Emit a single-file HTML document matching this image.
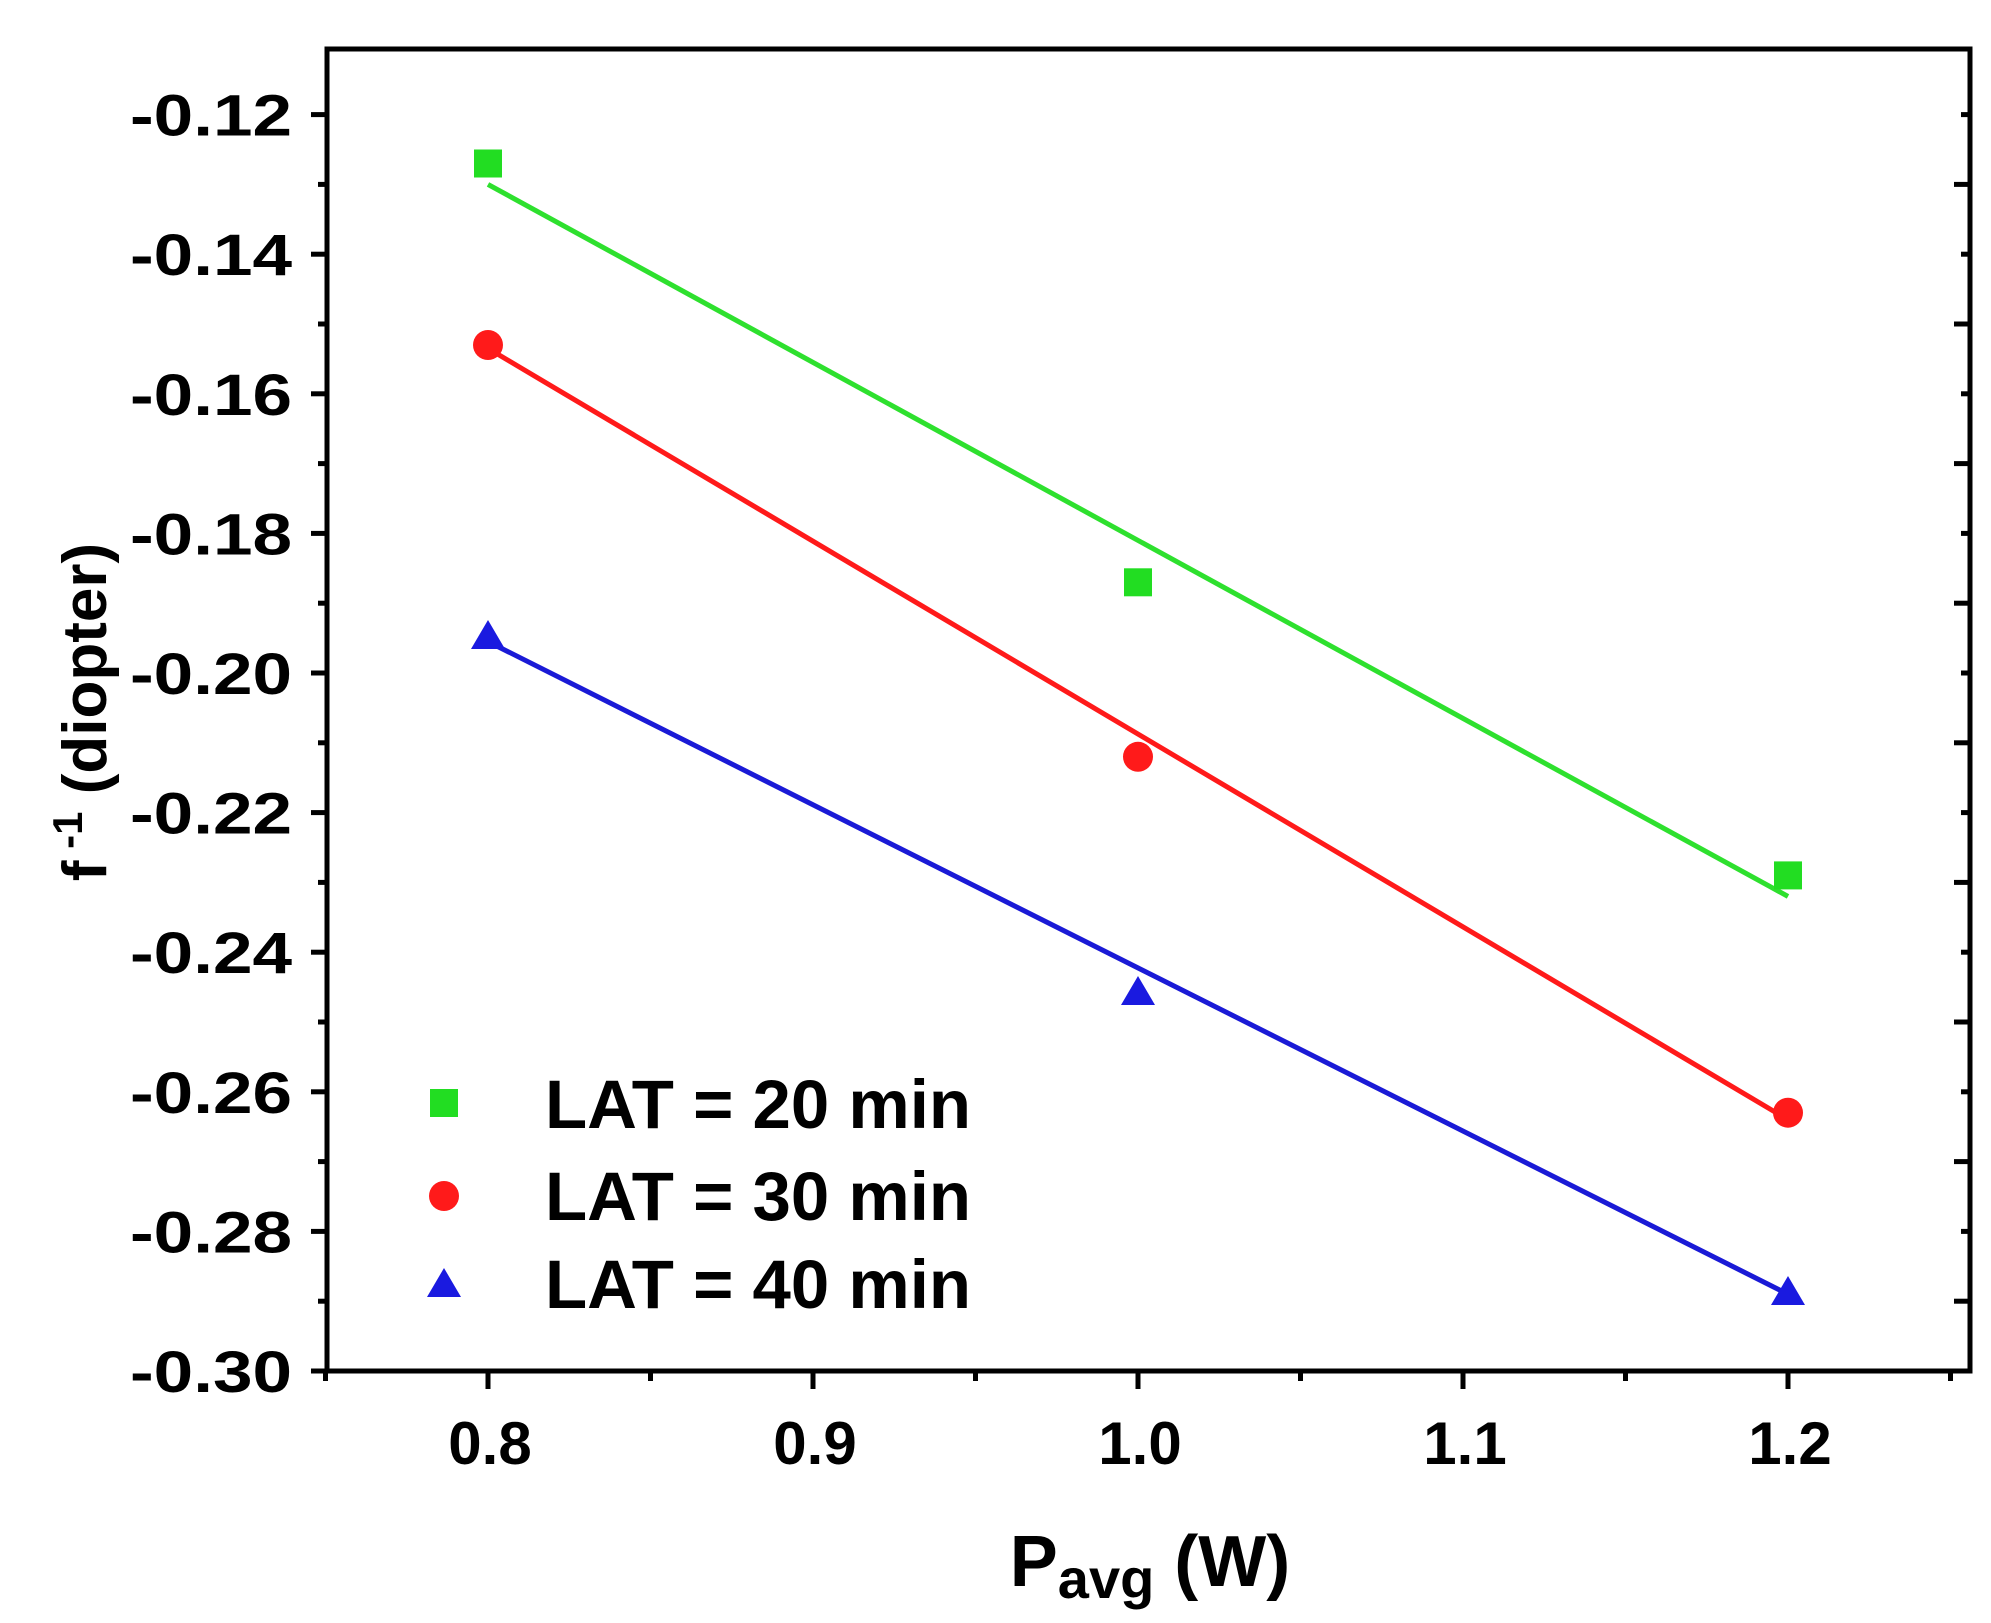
<!DOCTYPE html>
<html><head><style>body{margin:0;background:#fff}svg{display:block}</style></head>
<body>
<svg width="1991" height="1623" viewBox="0 0 1991 1623" xmlns="http://www.w3.org/2000/svg" font-family="Liberation Sans, Arial, sans-serif" font-weight="bold">
<rect width="1991" height="1623" fill="#fff"/>
<g stroke="#000" stroke-width="5">
<line x1="311" y1="1371" x2="327" y2="1371"/><line x1="318" y1="1301.2" x2="327" y2="1301.2"/>
<line x1="311" y1="1231.4" x2="327" y2="1231.4"/><line x1="318" y1="1161.6" x2="327" y2="1161.6"/>
<line x1="311" y1="1091.8" x2="327" y2="1091.8"/><line x1="318" y1="1022" x2="327" y2="1022"/>
<line x1="311" y1="952.2" x2="327" y2="952.2"/><line x1="318" y1="882.4" x2="327" y2="882.4"/>
<line x1="311" y1="812.6" x2="327" y2="812.6"/><line x1="318" y1="742.8" x2="327" y2="742.8"/>
<line x1="311" y1="673" x2="327" y2="673"/><line x1="318" y1="603.2" x2="327" y2="603.2"/>
<line x1="311" y1="533.4" x2="327" y2="533.4"/><line x1="318" y1="463.6" x2="327" y2="463.6"/>
<line x1="311" y1="393.8" x2="327" y2="393.8"/><line x1="318" y1="324" x2="327" y2="324"/>
<line x1="311" y1="254.2" x2="327" y2="254.2"/><line x1="318" y1="184.4" x2="327" y2="184.4"/>
<line x1="311" y1="114.6" x2="327" y2="114.6"/>

<line x1="1954" y1="1301.2" x2="1970" y2="1301.2"/><line x1="1961" y1="1231.4" x2="1970" y2="1231.4"/>
<line x1="1954" y1="1161.6" x2="1970" y2="1161.6"/><line x1="1961" y1="1091.8" x2="1970" y2="1091.8"/>
<line x1="1954" y1="1022" x2="1970" y2="1022"/><line x1="1961" y1="952.2" x2="1970" y2="952.2"/>
<line x1="1954" y1="882.4" x2="1970" y2="882.4"/><line x1="1961" y1="812.6" x2="1970" y2="812.6"/>
<line x1="1954" y1="742.8" x2="1970" y2="742.8"/><line x1="1961" y1="673" x2="1970" y2="673"/>
<line x1="1954" y1="603.2" x2="1970" y2="603.2"/><line x1="1961" y1="533.4" x2="1970" y2="533.4"/>
<line x1="1954" y1="463.6" x2="1970" y2="463.6"/><line x1="1961" y1="393.8" x2="1970" y2="393.8"/>
<line x1="1954" y1="324" x2="1970" y2="324"/><line x1="1961" y1="254.2" x2="1970" y2="254.2"/>
<line x1="1954" y1="184.4" x2="1970" y2="184.4"/><line x1="1961" y1="114.6" x2="1970" y2="114.6"/>

<line x1="325.5" y1="1371" x2="325.5" y2="1381"/>
<line x1="488" y1="1371" x2="488" y2="1389"/>
<line x1="650.5" y1="1371" x2="650.5" y2="1381"/>
<line x1="813" y1="1371" x2="813" y2="1389"/>
<line x1="975.5" y1="1371" x2="975.5" y2="1381"/>
<line x1="1138" y1="1371" x2="1138" y2="1389"/>
<line x1="1300.5" y1="1371" x2="1300.5" y2="1381"/>
<line x1="1463" y1="1371" x2="1463" y2="1389"/>
<line x1="1625.5" y1="1371" x2="1625.5" y2="1381"/>
<line x1="1788" y1="1371" x2="1788" y2="1389"/>
<line x1="1950.5" y1="1371" x2="1950.5" y2="1381"/>
</g>
<rect x="327" y="49" width="1643" height="1322" fill="none" stroke="#000" stroke-width="5"/>
<g font-size="58" fill="#000" text-anchor="end">
<text x="292" y="1392" textLength="162" lengthAdjust="spacingAndGlyphs">-0.30</text>
<text x="292" y="1252.4" textLength="162" lengthAdjust="spacingAndGlyphs">-0.28</text>
<text x="292" y="1112.8" textLength="162" lengthAdjust="spacingAndGlyphs">-0.26</text>
<text x="292" y="973.2" textLength="162" lengthAdjust="spacingAndGlyphs">-0.24</text>
<text x="292" y="833.6" textLength="162" lengthAdjust="spacingAndGlyphs">-0.22</text>
<text x="292" y="694" textLength="162" lengthAdjust="spacingAndGlyphs">-0.20</text>
<text x="292" y="554.4" textLength="162" lengthAdjust="spacingAndGlyphs">-0.18</text>
<text x="292" y="414.8" textLength="162" lengthAdjust="spacingAndGlyphs">-0.16</text>
<text x="292" y="275.2" textLength="162" lengthAdjust="spacingAndGlyphs">-0.14</text>
<text x="292" y="135.6" textLength="162" lengthAdjust="spacingAndGlyphs">-0.12</text>
</g>
<g font-size="60" fill="#000" text-anchor="middle">
<text x="490" y="1464">0.8</text>
<text x="815" y="1464">0.9</text>
<text x="1140" y="1464">1.0</text>
<text x="1465" y="1464">1.1</text>
<text x="1790" y="1464">1.2</text>
</g>
<g stroke-width="5" fill="none">
<line x1="488" y1="184.4" x2="1788" y2="896.4" stroke="#2ee02e"/>
<line x1="488" y1="348.4" x2="1788" y2="1119.7" stroke="#ff1a1a"/>
<line x1="488" y1="641.6" x2="1788" y2="1294.2" stroke="#1a1ad6"/>
</g>
<g fill="#22dd22">
<rect x="474" y="149.5" width="28" height="28"/><rect x="1124" y="568.3" width="28" height="28"/><rect x="1774" y="861.4" width="28" height="28"/>
<rect x="430" y="1089" width="28" height="28"/>
</g>
<g fill="#ff1a1a">
<circle cx="488" cy="345" r="15"/><circle cx="1138" cy="756.8" r="15"/><circle cx="1788" cy="1112.7" r="15"/>
<circle cx="444" cy="1196" r="15"/>
</g>
<g fill="#1a1ae0">
<polygon points="488,620 505,649 471,649"/><polygon points="1138,976 1155,1005 1121,1005"/><polygon points="1788,1276 1805,1305 1771,1305"/>
<polygon points="444,1268 461,1297 427,1297"/>
</g>
<g font-size="69" fill="#000">
<text x="545" y="1128" textLength="426" lengthAdjust="spacingAndGlyphs">LAT = 20 min</text>
<text x="545" y="1220" textLength="426" lengthAdjust="spacingAndGlyphs">LAT = 30 min</text>
<text x="545" y="1308" textLength="426" lengthAdjust="spacingAndGlyphs">LAT = 40 min</text>
</g>
<text x="1150" y="1586" font-size="72" text-anchor="middle">P<tspan font-size="56" dy="12">avg</tspan><tspan dy="-12"> (W)</tspan></text>
<text transform="translate(106,712) rotate(-90)" font-size="62" text-anchor="middle">f<tspan font-size="42" dy="-24"> -1</tspan><tspan dy="24">  (diopter)</tspan></text>
</svg>
</body></html>
